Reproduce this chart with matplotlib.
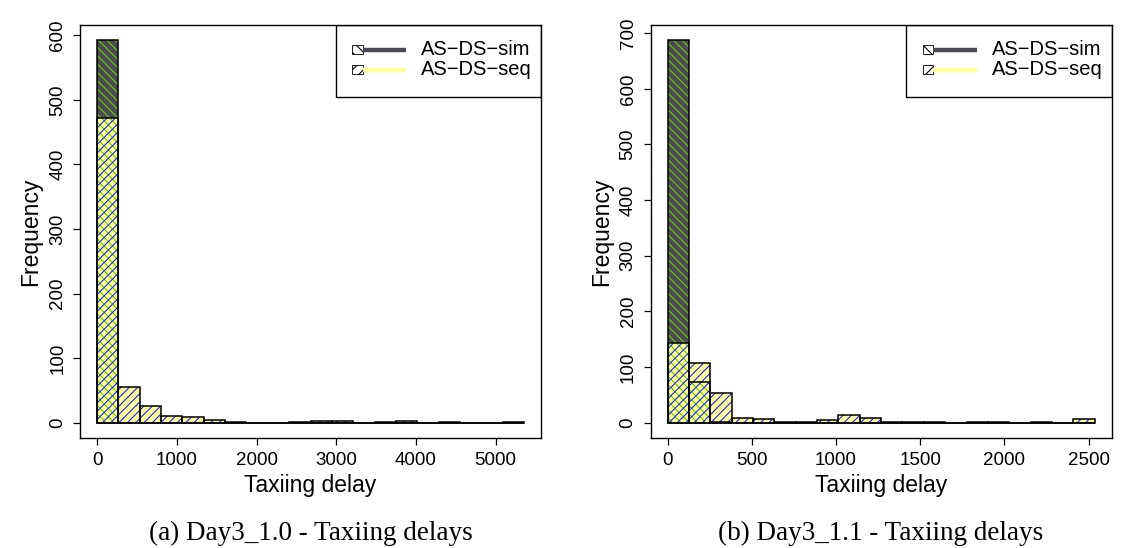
import numpy as np
import matplotlib.pyplot as plt
from matplotlib.patches import Rectangle
from matplotlib.lines import Line2D

plt.rcParams['font.family'] = ['Liberation Sans', 'DejaVu Sans']
plt.rcParams['hatch.linewidth'] = 0.8

# panel (a): Day3_1.0, 20 bins over 0..5354
a_xmax = 5354
a_sim = [592, 0, 0, 0, 0, 0, 0, 0, 0, 0, 0, 0, 0, 0, 0, 0, 0, 0, 0, 0]
a_seq = [472, 56, 26, 11, 9, 4, 1, 0, 0, 1, 2, 2, 0, 1, 2, 0, 1, 0, 0, 1]

# panel (b): Day3_1.1, 20 bins over 0..2535
b_xmax = 2535
b_sim = [687, 74, 2, 0, 0, 0, 0, 0, 0, 0, 0, 0, 1, 0, 0, 1, 0, 0, 0, 0]
b_seq = [144, 108, 54, 8, 7, 2, 2, 5, 14, 8, 2, 2, 0, 0, 2, 0, 0, 2, 0, 7]

a_xticks = [0, 1000, 2000, 3000, 4000, 5000]
a_yticks = [0, 100, 200, 300, 400, 500, 600]
b_xticks = [0, 500, 1000, 1500, 2000, 2500]
b_yticks = [0, 100, 200, 300, 400, 500, 600, 700]

captions = ['(a) Day3_1.0 - Taxiing delays', '(b) Day3_1.1 - Taxiing delays']
names = ['AS\u2212DS\u2212sim', 'AS\u2212DS\u2212seq']

dark = '#4d4955'
yellow = '#ffff99'
green = '#66cc00'
blue = '#2020ff'

fig = plt.figure(figsize=(11.21, 5.48), dpi=100)
ax1 = fig.add_axes([0.0714, 0.2007, 0.4112, 0.7536])
ax2 = fig.add_axes([0.5803, 0.2007, 0.4114, 0.7536])


def panel(ax, xmax, sim, seq, xt, yt, cap):
    edges = np.linspace(0, xmax, len(sim) + 1)
    left = edges[:-1]
    w = np.diff(edges)
    ax.bar(left, sim, w, align='edge', color=dark, lw=0, zorder=1)
    ax.bar(left, seq, w, align='edge', color=yellow, lw=0, zorder=2)
    ax.bar(left, sim, w, align='edge', fill=False, edgecolor=green, lw=0, hatch='\\\\\\\\', zorder=3)
    ax.bar(left, seq, w, align='edge', fill=False, edgecolor=blue, lw=0, hatch='////', zorder=4)
    ax.bar(left, sim, w, align='edge', fill=False, edgecolor='black', lw=1.1, zorder=5)
    ax.bar(left, seq, w, align='edge', fill=False, edgecolor='black', lw=1.1, zorder=6)

    ymax = max(max(sim), max(seq))
    ax.set_xlim(-0.04 * xmax, 1.04 * xmax)
    ax.set_ylim(-0.04 * ymax, 1.04 * ymax)
    ax.set_xticks(xt)
    ax.set_yticks(yt)
    ax.tick_params(axis='both', length=5, width=0.9, labelsize=13.5, direction='out')
    ax.tick_params(axis='x', pad=5)
    ax.tick_params(axis='y', pad=5)
    for lab in ax.get_yticklabels():
        lab.set_rotation(90)
        lab.set_va('center')
    for s in ax.spines.values():
        s.set_linewidth(1.0)
    ax.set_xlabel('Taxiing delay', fontsize=16.5, labelpad=4)
    ax.set_ylabel('Frequency', fontsize=16.5, labelpad=5)
    ax.text(0.5, -0.23, cap, transform=ax.transAxes, ha='center', va='center',
            fontsize=19.5, family=['Liberation Serif', 'DejaVu Serif'])

    # legend box in the top right corner
    tr = ax.transAxes
    ax.add_patch(Rectangle((0.555, 0.826), 0.445, 0.174, transform=tr, fill=False,
                           edgecolor='black', lw=1.0, zorder=10))
    rows = [(0.940, '\\\\\\', dark), (0.892, '///', yellow)]
    for (yy, h, c), name in zip(rows, names):
        ax.add_patch(Rectangle((0.591, yy - 0.011), 0.022, 0.022, transform=tr,
                               facecolor='white', edgecolor='black', lw=0.6, hatch=h, zorder=11))
        ax.add_line(Line2D([0.613, 0.707], [yy, yy], transform=tr, color=c, lw=3.2,
                           solid_capstyle='butt', zorder=11))
        ax.text(0.74, yy, name, transform=tr, va='center', ha='left', fontsize=14.5, zorder=11)


panel(ax1, a_xmax, a_sim, a_seq, a_xticks, a_yticks, captions[0])
panel(ax2, b_xmax, b_sim, b_seq, b_xticks, b_yticks, captions[1])

fig.savefig('out.png', dpi=100)
